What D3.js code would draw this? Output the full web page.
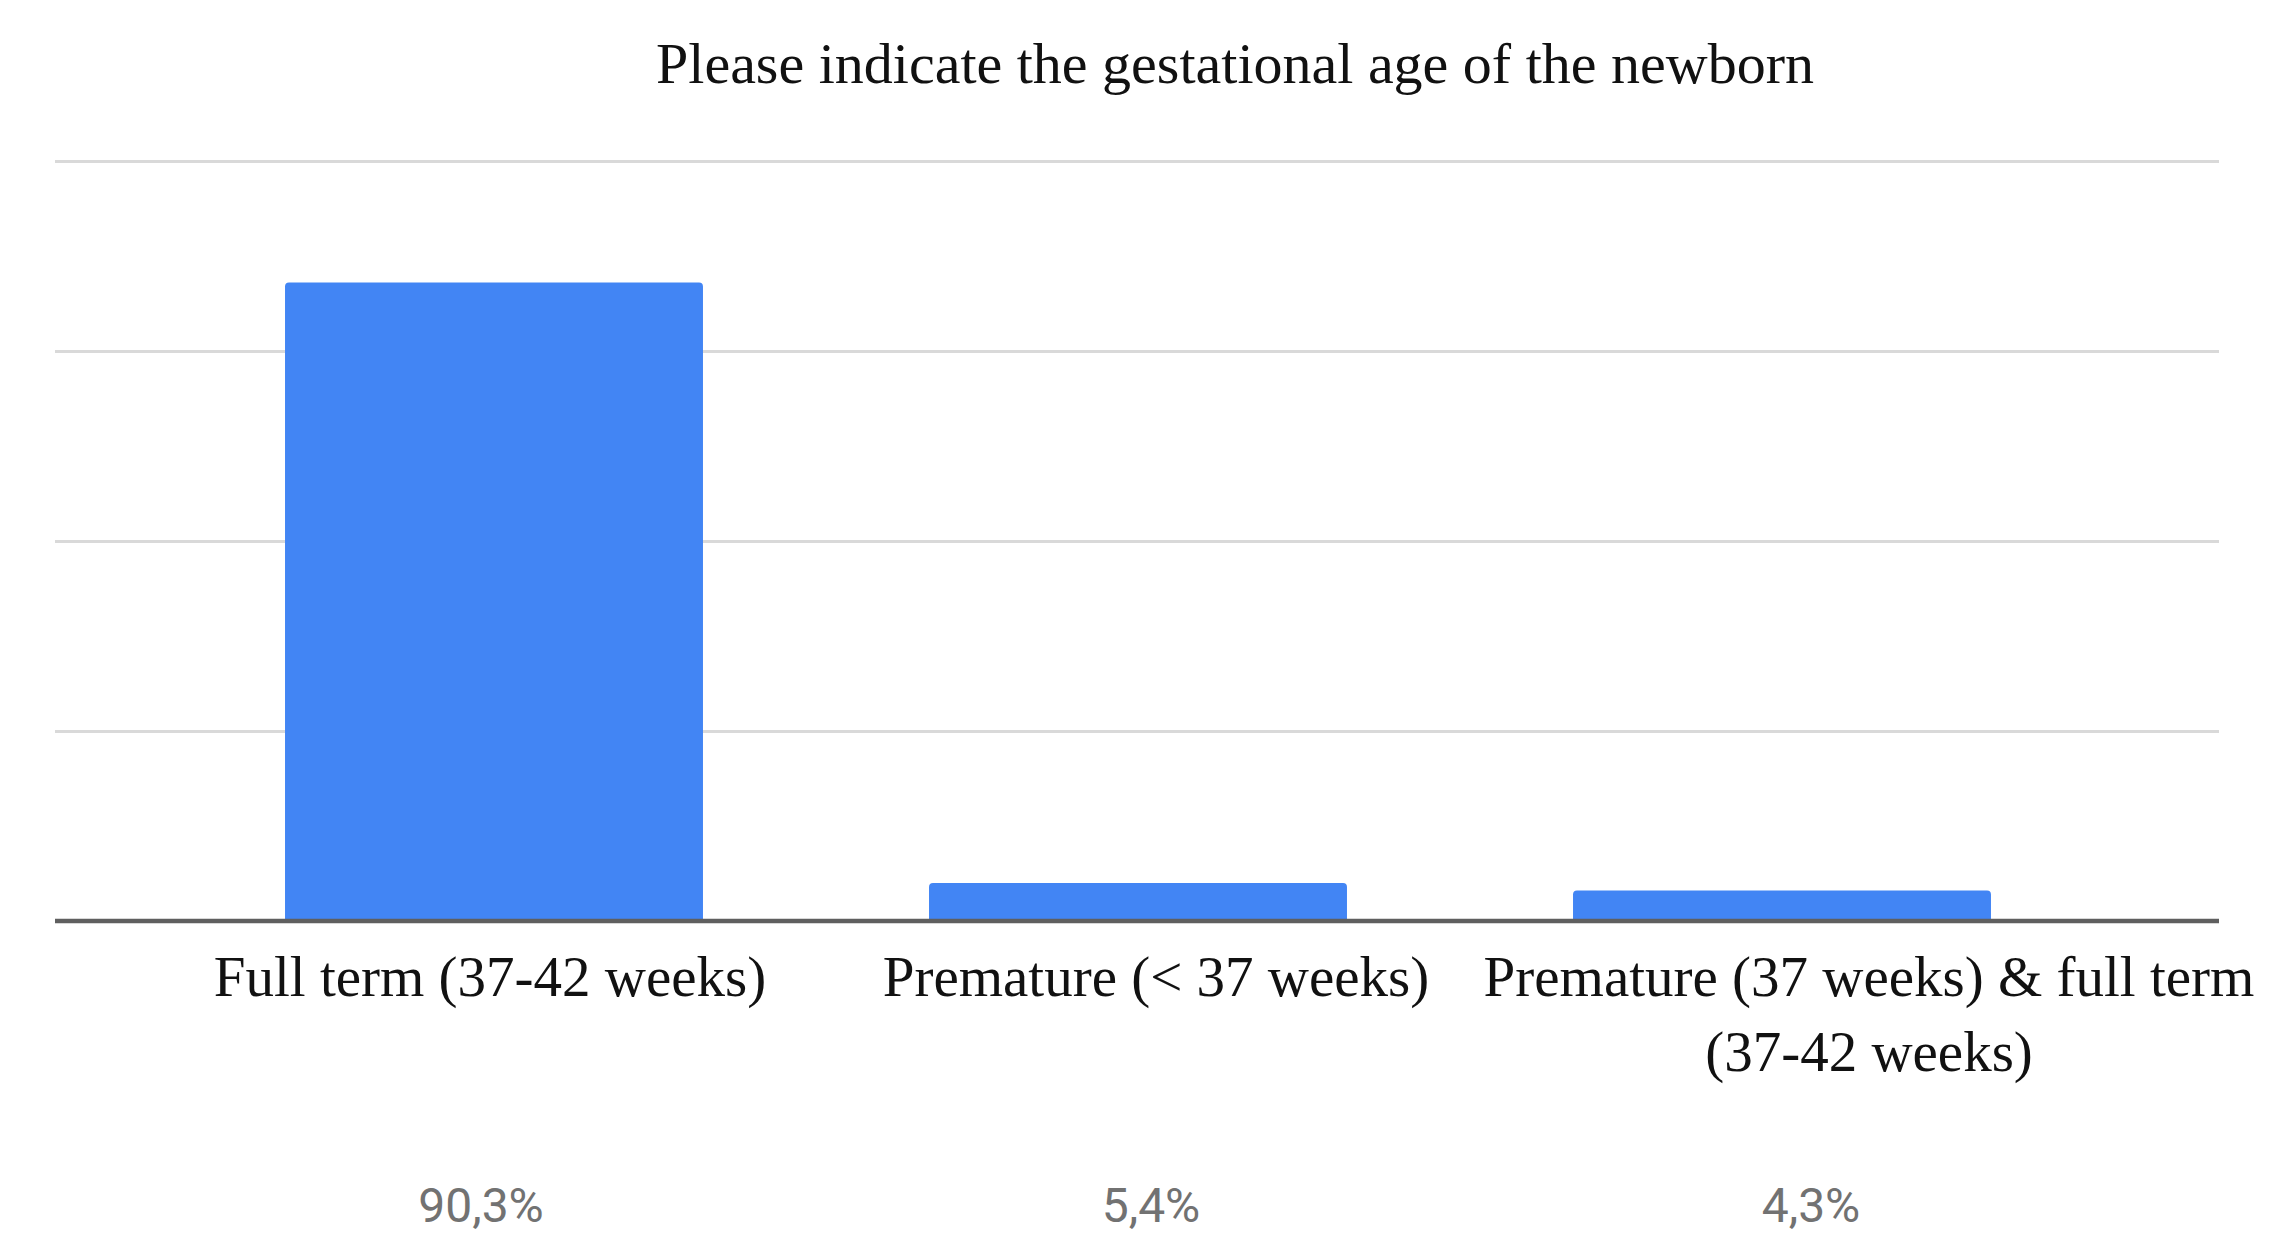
<!DOCTYPE html>
<html>
<head>
<meta charset="utf-8">
<script src="https://cdn.jsdelivr.net/npm/d3@7"></script>
<style>
  body { margin: 0; background: #fff; }
  svg { display: block; }
</style>
</head>
<body>
<div id="chart"></div>
<script>
// data (counts out of 93 answers)
var categories = ["Full term (37-42 weeks)", "Premature (< 37 weeks)", "Premature (37 weeks) & full term (37-42 weeks)"];
var labelLines = [["Full term (37-42 weeks)"], ["Premature (< 37 weeks)"], ["Premature (37 weeks) & full term", "(37-42 weeks)"]];
var counts = [84, 5, 4];
var percentLabels = ["90,3%", "5,4%", "4,3%"];
var yTicks = [0, 25, 50, 75, 100];
var chartTitle = "Please indicate the gestational age of the newborn";

var width = 2292, height = 1255;
var left = 55, right = 2219;

var svg = d3.select("#chart").append("svg")
    .attr("width", width)
    .attr("height", height);

var x = d3.scaleBand()
    .domain(categories)
    .range([172, 2104])
    .paddingInner(0.351)
    .paddingOuter(0.1755);

var y = d3.scaleLinear()
    .domain([0, 100])
    .range([921, 161]);

// title
svg.append("text")
    .attr("x", 1235)
    .attr("y", 83)
    .attr("text-anchor", "middle")
    .style("font-family", "'Liberation Serif', 'Times New Roman', serif")
    .style("font-size", "58px")
    .style("fill", "#111")
    .text(chartTitle);

// gridlines
var grid = svg.append("g")
    .attr("transform", "translate(" + left + ",0)")
    .call(d3.axisLeft(y).tickValues(yTicks).tickSize(-(right - left)).tickFormat(""));
grid.select(".domain").remove();
grid.selectAll("line").attr("stroke", "#d9d9d9").attr("stroke-width", 3);

// bars with slightly rounded tops
var r = 4;
svg.append("g").selectAll("path")
    .data(counts)
    .enter()
    .append("path")
    .attr("d", function(d, i) {
        var x0 = x(categories[i]), w = x.bandwidth(), y0 = y(d), yb = y(0);
        return "M" + x0 + "," + yb + "V" + (y0 + r) + "Q" + x0 + "," + y0 + " " + (x0 + r) + "," + y0 +
            "H" + (x0 + w - r) + "Q" + (x0 + w) + "," + y0 + " " + (x0 + w) + "," + (y0 + r) + "V" + yb + "Z";
    })
    .attr("fill", "#4285f4");

// baseline
svg.append("line")
    .attr("x1", left).attr("x2", right)
    .attr("y1", y(0)).attr("y2", y(0))
    .attr("stroke", "#5f5f5f")
    .attr("stroke-width", 4.5);

// category labels (the pasted labels sit a little off the bar centres)
var labelNudge = [-4, 18, 87];
var labels = svg.append("g").selectAll("text")
    .data(labelLines)
    .enter()
    .append("text")
    .attr("text-anchor", "middle")
    .style("font-family", "'Liberation Serif', 'Times New Roman', serif")
    .style("font-size", "57px")
    .style("fill", "#111");
labels.selectAll("tspan")
    .data(function(d, i) { return d.map(function(t) { return {t: t, i: i}; }); })
    .enter()
    .append("tspan")
    .attr("x", function(d) { return x(categories[d.i]) + x.bandwidth() / 2 + labelNudge[d.i]; })
    .attr("y", function(d, j) { return 996 + j * 75; })
    .text(function(d) { return d.t; });

// percentages
var pctNudge = [-13, 13, 29];
svg.append("g").selectAll("text")
    .data(percentLabels)
    .enter()
    .append("text")
    .attr("x", function(d, i) { return x(categories[i]) + x.bandwidth() / 2 + pctNudge[i]; })
    .attr("y", 1222)
    .attr("text-anchor", "middle")
    .style("font-family", "Roboto, Arial, sans-serif")
    .style("font-size", "48px")
    .style("fill", "#727272")
    .text(function(d) { return d; });
</script>
</body>
</html>
